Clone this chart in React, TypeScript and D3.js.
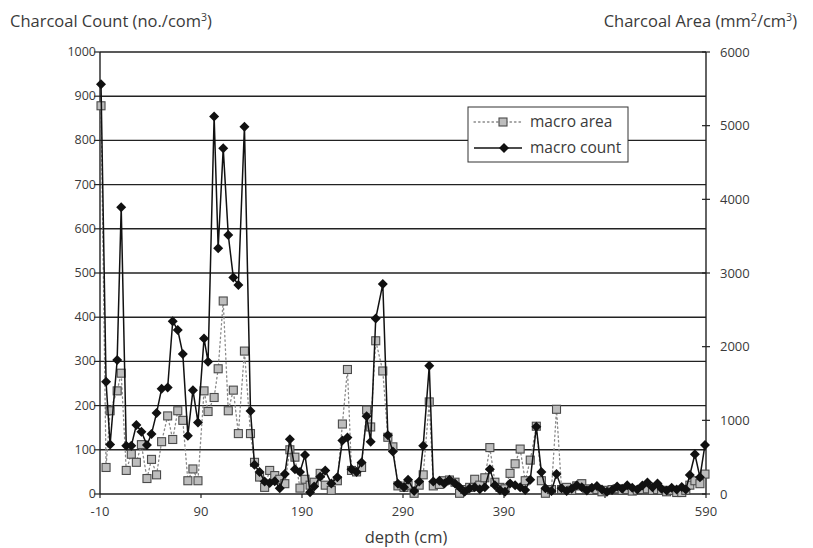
import React from "react";
import * as d3 from "d3";

// Sample depths (cm)
const depths = [
  -9, -4, 0, 7, 11, 16, 21, 26, 31, 36.5, 41, 46, 51, 57, 62, 67, 72, 77, 82, 87,
  93, 97, 103, 107, 112, 117, 122, 127, 133, 139, 143, 148, 153, 158, 163, 168, 173, 178, 183, 188,
  193, 198, 202, 208, 213, 219, 225, 230, 235, 239, 244, 249, 254, 258, 263, 270, 275, 280, 285, 291,
  295, 301, 306, 310, 316, 320, 326, 331, 336, 341.5, 346, 351, 356, 361, 366, 371, 376, 381,
  386, 391, 396, 401, 406, 411, 416, 422, 427, 431, 437, 442, 447, 452, 457, 462, 467, 472,
  477, 482, 487, 492, 497, 502, 507, 512, 517, 522, 527, 532, 537, 542, 546, 551, 556, 561,
  566, 570, 574, 579, 584, 589,
];

// Charcoal count (no./cm3) — left axis
const macroCount = [
  927, 254, 112, 303, 649, 109, 109, 156, 141, 111, 136, 183, 238, 241, 391, 371, 317, 132, 235, 162,
  352, 299, 854, 556, 782, 586, 490, 473, 831, 188, 66, 50, 28, 25, 29, 13, 45, 124, 56, 50,
  88, 4, 17, 39, 53, 24, 38, 121, 128, 56, 50, 71, 176, 118, 397, 475, 133, 96, 23, 15,
  32, 7, 28, 109, 290, 28, 30, 24, 32, 24, 15, 5, 13, 15, 11, 15, 56, 20,
  9, 5, 24, 20, 15, 9, 32, 152, 50, 13, 7, 45, 13, 7, 12, 20, 15, 8,
  14, 18, 10, 5, 9, 17, 12, 20, 14, 10, 19, 26, 15, 24, 12, 8, 14, 10,
  16, 10, 43, 90, 38, 111,
];

// Charcoal area (mm2/cm3) — right axis
const macroArea = [
  5270, 360, 1130, 1400, 1640, 320, 540, 430, 670, 210, 470, 260, 710, 1060, 740, 1130, 1000, 180, 340, 180,
  1400, 1120, 1310, 1700, 2620, 1130, 1410, 820, 1940, 820, 430, 230, 90, 320, 250, 200, 140, 600, 500, 80,
  200, 120, 160, 280, 120, 50, 180, 950, 1690, 320, 300, 360, 1140, 910, 2080, 1670, 770, 640, 110, 90,
  120, 10, 120, 260, 1250, 110, 130, 180, 190, 160, 10, 60, 90, 200, 120, 220, 630, 160,
  90, 70, 280, 410, 610, 180, 460, 920, 180, 10, 60, 1150, 60, 90, 50, 110, 140, 70,
  50, 60, 30, 50, 60, 70, 50, 60, 40, 50, 60, 70, 50, 60, 50, 30, 50, 20,
  20, 50, 120, 180, 140, 270,
];

const countTicks = [0, 100, 200, 300, 400, 500, 600, 700, 800, 900, 1000];
const areaTicks = [0, 1000, 2000, 3000, 4000, 5000, 6000];
const depthTicks = [-10, 90, 190, 290, 390, 490, 590];
const depthTickLabels = ["-10", "90", "190", "290", "390", "", "590"];

const W = 813;
const H = 548;
const FONT = "'Open Sans', Lato, sans-serif";
const TEXT = "#3a3a3a";

export default function App() {
  const x = d3.scaleLinear().domain([-10, 590]).range([100, 706]);
  const yCount = d3.scaleLinear().domain([0, 1000]).range([494, 52]);
  const yArea = d3.scaleLinear().domain([0, 6000]).range([494, 52]);

  const countPts = depths.map((d, i) => [x(d), yCount(macroCount[i])] as [number, number]);
  const areaPts = depths.map((d, i) => [x(d), yArea(macroArea[i])] as [number, number]);
  const line = d3.line<[number, number]>().x((p) => p[0]).y((p) => p[1]);

  const diamond = (cx: number, cy: number, r: number) =>
    `M${cx},${cy - r}L${cx + r},${cy}L${cx},${cy + r}L${cx - r},${cy}Z`;

  const [x0, x1] = x.range();

  return (
    <div style={{ position: "absolute", left: 0, top: 0 }}>
      <svg width={W} height={H} style={{ display: "block", background: "#fff" }}>
        {/* axis titles */}
        <text x={10} y={27} fontFamily={FONT} fontSize={16.5} fill={TEXT}>
          Charcoal Count (no./com<tspan dy={-6} fontSize={10.5}>3</tspan>
          <tspan dy={6}>)</tspan>
        </text>
        <text x={797} y={27} fontFamily={FONT} fontSize={16.5} fill={TEXT} textAnchor="end">
          Charcoal Area (mm<tspan dy={-6} fontSize={10.5}>2</tspan>
          <tspan dy={6}>/cm</tspan>
          <tspan dy={-6} fontSize={10.5}>3</tspan>
          <tspan dy={6}>)</tspan>
        </text>

        {/* horizontal grid */}
        {countTicks.map((t) => (
          <line key={"g" + t} x1={x0} x2={x1} y1={yCount(t)} y2={yCount(t)} stroke="#222" strokeWidth={1.4} />
        ))}

        {/* left axis */}
        <line x1={x0} x2={x0} y1={yCount(1000)} y2={yCount(0)} stroke="#222" strokeWidth={1.4} />
        {countTicks.map((t) => (
          <g key={"l" + t}>
            <line x1={x0 - 6} x2={x0} y1={yCount(t)} y2={yCount(t)} stroke="#222" strokeWidth={1.2} />
            <text x={x0 - 4} y={yCount(t) + 4} textAnchor="end" fontFamily={FONT} fontSize={12.5} fill={TEXT}>
              {t}
            </text>
          </g>
        ))}

        {/* right axis */}
        <line x1={x1} x2={x1} y1={yArea(6000)} y2={yArea(0)} stroke="#222" strokeWidth={1.4} />
        {areaTicks.map((t) => (
          <g key={"r" + t}>
            <line x1={x1 - 4} x2={x1 + 4} y1={yArea(t)} y2={yArea(t)} stroke="#222" strokeWidth={1.2} />
            <text x={x1 + 14} y={yArea(t) + 4.5} fontFamily={FONT} fontSize={13} fill={TEXT}>
              {t}
            </text>
          </g>
        ))}

        {/* bottom axis */}
        {depthTicks.map((t, i) => (
          <g key={"b" + t}>
            <line x1={x(t)} x2={x(t)} y1={494} y2={498} stroke="#222" strokeWidth={1.2} />
            <text x={x(t)} y={516} textAnchor="middle" fontFamily={FONT} fontSize={13} fill={TEXT}>
              {depthTickLabels[i]}
            </text>
          </g>
        ))}
        <text x={406} y={543} textAnchor="middle" fontFamily={FONT} fontSize={16.5} fill={TEXT}>
          depth (cm)
        </text>

        {/* macro area: dotted line with grey squares */}
        <path
          d={line(areaPts) ?? ""}
          fill="none"
          stroke="#8a8a8a"
          strokeWidth={1.3}
          strokeDasharray="1.5,3"
          strokeLinecap="round"
        />
        {areaPts.map((p, i) => (
          <rect key={"s" + i} x={p[0] - 4} y={p[1] - 4} width={8} height={8} fill="#bdbdbd" stroke="#4a4a4a" strokeWidth={1.1} />
        ))}

        {/* macro count: solid line with black diamonds */}
        <path d={line(countPts) ?? ""} fill="none" stroke="#111" strokeWidth={1.5} />
        {countPts.map((p, i) => (
          <path key={"d" + i} d={diamond(p[0], p[1], 5)} fill="#111" />
        ))}

        {/* legend */}
        <g>
          <rect x={468} y={107} width={160} height={55} fill="#fff" stroke="#333" strokeWidth={1} />
          <line x1={474} x2={522} y1={122} y2={122} stroke="#8a8a8a" strokeWidth={1.3} strokeDasharray="1.5,3" strokeLinecap="round" />
          <rect x={499} y={118} width={8} height={8} fill="#bdbdbd" stroke="#4a4a4a" strokeWidth={1.1} />
          <text x={530} y={127} fontFamily={FONT} fontSize={15.5} fill={TEXT}>
            macro area
          </text>
          <line x1={474} x2={522} y1={148} y2={148} stroke="#111" strokeWidth={1.5} />
          <path d={diamond(504, 148, 5)} fill="#111" />
          <text x={530} y={153} fontFamily={FONT} fontSize={15.5} fill={TEXT}>
            macro count
          </text>
        </g>
      </svg>
    </div>
  );
}
